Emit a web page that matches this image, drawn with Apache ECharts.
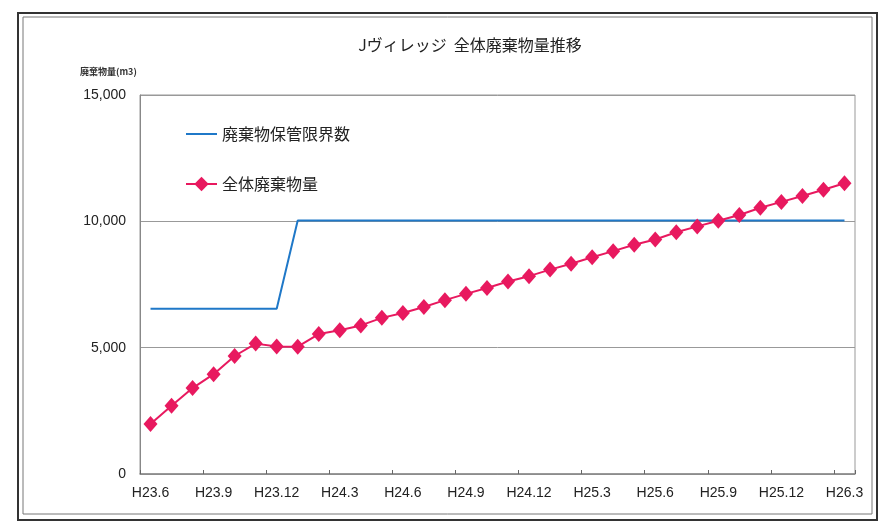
<!DOCTYPE html>
<html><head><meta charset="utf-8">
<script src="https://cdn.jsdelivr.net/npm/echarts@6/dist/echarts.min.js"></script>
<style>html,body{margin:0;padding:0;background:#fff}#c{width:881px;height:523px}</style>
</head><body><div id="c"></div>
<script>
const months = ['H23.6','H23.7','H23.8','H23.9','H23.10','H23.11','H23.12',
 'H24.1','H24.2','H24.3','H24.4','H24.5','H24.6','H24.7','H24.8','H24.9','H24.10','H24.11','H24.12',
 'H25.1','H25.2','H25.3','H25.4','H25.5','H25.6','H25.7','H25.8','H25.9','H25.10','H25.11','H25.12',
 'H26.1','H26.2','H26.3'];
const limitSeries = [6540,6540,6540,6540,6540,6540,6540,
 10030,10030,10030,10030,10030,10030,10030,10030,10030,10030,10030,10030,
 10030,10030,10030,10030,10030,10030,10030,10030,10030,10030,10030,10030,
 10030,10030,10030];
const totalSeries = [1980,2700,3400,3950,4670,5160,5050,
 5040,5540,5690,5880,6180,6370,6610,6880,7130,7360,7620,7830,
 8090,8320,8580,8820,9070,9280,9570,9800,10020,10250,10540,10770,
 11000,11250,11510];
const yTicks = [0,5000,10000,15000];
const seriesNames = ['廃棄物保管限界数','全体廃棄物量'];

const chart = echarts.init(document.getElementById('c'));
const numFont = "'Liberation Sans Narrow','Arial Narrow','Liberation Sans',Arial,sans-serif";
const cjk = "'Noto Sans CJK JP',sans-serif";
chart.setOption({
  animation:false,
  backgroundColor:'#fff',
  title:{text:'Jヴィレッジ  全体廃棄物量推移',left:465,top:32,textAlign:'center',
    textStyle:{fontFamily:cjk,fontSize:16,fontWeight:'normal',color:'#222'}},
  graphic:[
    {type:'rect',shape:{x:18,y:13,width:859,height:507},style:{fill:'none',stroke:'#333',lineWidth:2}},
    {type:'rect',shape:{x:23,y:17,width:849,height:497},style:{fill:'none',stroke:'#777',lineWidth:1}},
    {type:'text',left:80,top:67,style:{text:'廃棄物量(m3)',font:"bold 9px 'Noto Sans CJK JP'",fill:'#333'}}
  ],
  legend:{show:true,orient:'vertical',left:180,top:121,itemGap:34,itemWidth:31,itemHeight:18,
    textStyle:{fontFamily:cjk,fontSize:16,color:'#222'},
    data:[{name:seriesNames[0],itemStyle:{opacity:0}},{name:seriesNames[1]}]},
  grid:{left:140,right:26,top:95,bottom:49,show:true,borderColor:'#999',borderWidth:1,backgroundColor:'transparent'},
  xAxis:{type:'category',data:months,boundaryGap:true,
    axisLine:{lineStyle:{color:'#888',width:1.5}},
    axisTick:{show:true,inside:true,length:4,interval:2,lineStyle:{color:'#666'}},
    axisLabel:{interval:2,margin:12,fontFamily:numFont,fontSize:14,color:'#222'},
    splitLine:{show:false}},
  yAxis:{type:'value',min:0,max:15000,interval:5000,
    axisLine:{show:true,lineStyle:{color:'#888'}},
    axisTick:{show:false},
    axisLabel:{margin:14,fontFamily:numFont,fontSize:14,color:'#222',
      formatter:v=>yTicks.includes(v)?v.toLocaleString('en-US'):''},
    splitLine:{lineStyle:{color:'#999',width:1}}},
  series:[
    {name:seriesNames[0],type:'line',data:limitSeries,symbol:'none',
      lineStyle:{color:'#1f78c8',width:2},itemStyle:{color:'#1f78c8'}},
    {name:seriesNames[1],type:'line',data:totalSeries,symbol:'diamond',symbolSize:[14,16],showAllSymbol:true,
      lineStyle:{color:'#e8195f',width:2},itemStyle:{color:'#e8195f'}}
  ]
});
</script></body></html>
